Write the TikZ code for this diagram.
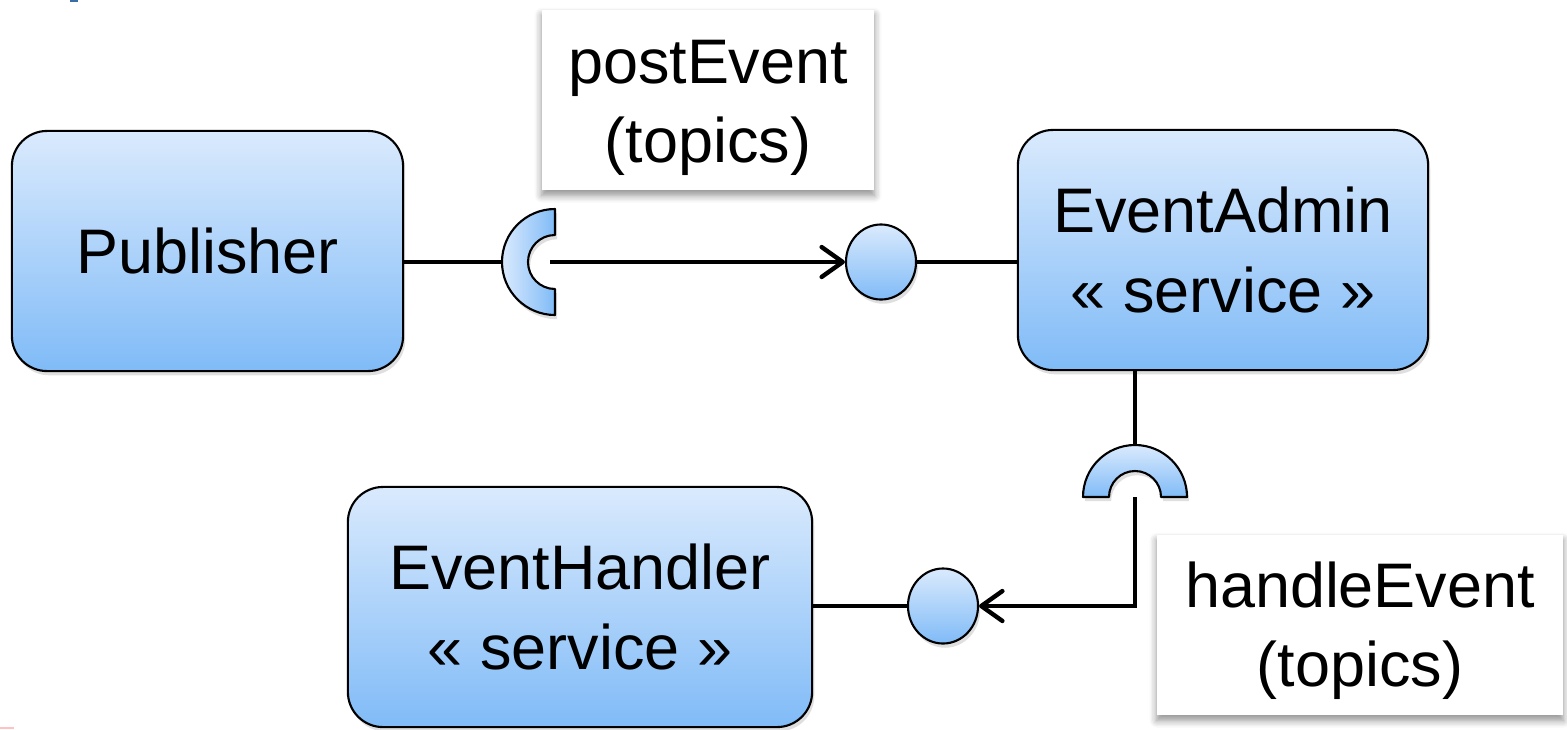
\documentclass[tikz,border=0pt]{standalone}
\usepackage{fontspec}
\setmainfont{Liberation Sans}
\usetikzlibrary{arrows.meta,shadows,shadows.blur,shapes.geometric}
\definecolor{boxtop}{RGB}{218,234,253}
\definecolor{boxbot}{RGB}{128,187,247}
\definecolor{markblue}{RGB}{58,110,165}
\tikzset{
  txt/.style={font=\fontsize{17.9}{22.5}\selectfont, align=center},
  comp/.style={txt, draw=black, line width=0.6pt, rounded corners=10pt,
    top color=boxtop, bottom color=boxbot,
    drop shadow={shadow xshift=0.6pt, shadow yshift=-1.2pt, opacity=0.25}},
  note/.style={fill=white, inner sep=0pt,
    blur shadow={shadow xshift=0pt, shadow yshift=-1.5pt, shadow blur steps=6, shadow opacity=45}},
  port/.style={ellipse, draw=black, line width=0.6pt, inner sep=0pt,
    minimum width=0.70cm, minimum height=0.75cm,
    top color=boxtop, bottom color=boxbot,
    drop shadow={shadow xshift=0.6pt, shadow yshift=-1.2pt, opacity=0.25}},
  socket/.style={draw=black, line width=0.6pt, line join=round,
    drop shadow={shadow xshift=0.6pt, shadow yshift=-1.2pt, opacity=0.25}},
  wire/.style={line width=1.25pt},
  flow/.style={wire, -{Straight Barb[length=6pt, width=8.5pt, round]}},
}
\begin{document}
\begin{tikzpicture}[x=0.01cm, y=0.01cm]
\useasboundingbox (0,0) rectangle (1567,729);

% corner marks
\fill[markblue] (70,727) rectangle (78,729);
\fill[red!70, opacity=0.35] (0,0) rectangle (14,2);

% components
\node[comp, minimum width=3.91cm, minimum height=2.40cm] (pub) at (207.5,478) {Publisher};
\node[comp, minimum width=4.10cm, minimum height=2.40cm] (ea) at (1223,479) {EventAdmin\\« service »};
\node[comp, minimum width=4.64cm, minimum height=2.40cm] (eh) at (580,122) {EventHandler\\« service »};

% operation labels: white card with its text set a little below centre
\node[note, minimum width=3.32cm, minimum height=1.80cm] (pe) at (708,629) {};
\node[txt] (petext) at (708,621) {postEvent\\(topics)};
\node[note, minimum width=4.06cm, minimum height=1.80cm] (he) at (1360,104) {};
\node[txt] (hetext) at (1360,98) {handleEvent\\(topics)};

% required interface of the publisher (socket opening to the right)
\coordinate (s1) at (555,467);
\coordinate (s1w) at (502,467);
\coordinate (s1in) at (550,467);
\path[socket, left color=boxtop, right color=boxbot]
  (555,520) arc[start angle=90, end angle=270, radius=53]
  -- (555,440) arc[start angle=270, end angle=90, radius=27] -- cycle;

% provided interface of the event admin
\node[port] (c1) at (881,467) {};

% required interface of the event admin (socket opening downwards)
\coordinate (s2) at (1135,232);
\coordinate (s2top) at (1135,284);
\path[socket, top color=boxtop, bottom color=boxbot]
  (1187,232) arc[start angle=0, end angle=180, radius=52]
  -- (1109,232) arc[start angle=180, end angle=0, radius=26] -- cycle;

% provided interface of the event handler
\node[port] (c2) at (943,123) {};

% connectors
\draw[wire] (pub.east |- s1w) -- (s1w);
\draw[flow] (s1in) -- (c1.west);
\draw[wire] (c1.east) -- (c1.east -| ea.west);
\draw[wire] (s2top |- ea.south) -- (s2top);
\draw[flow] (s2) |- (c2.east);
\draw[wire] (c2.west) -- (c2.west -| eh.east);
\end{tikzpicture}
\end{document}
